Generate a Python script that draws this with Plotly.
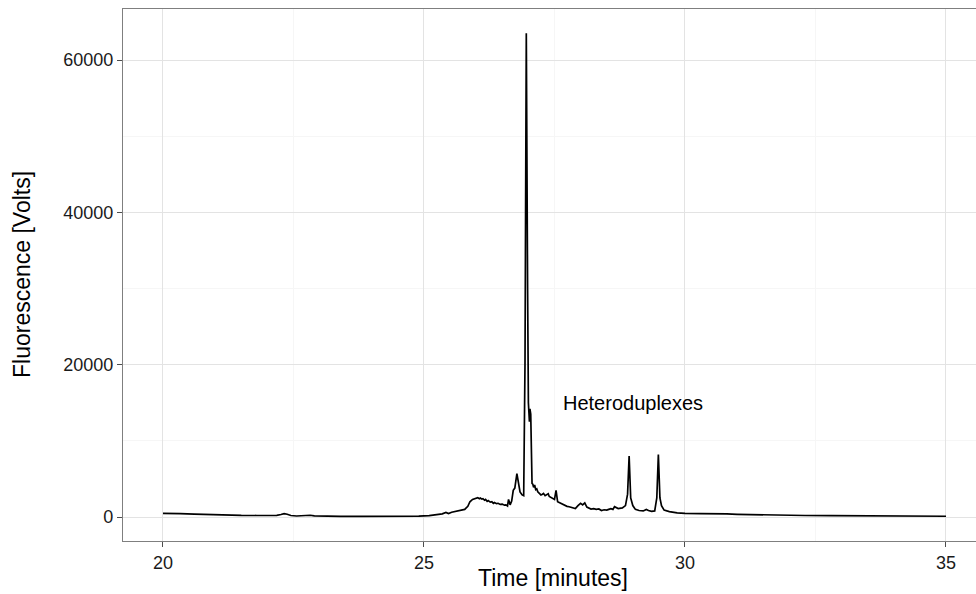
import plotly.graph_objects as go

time_min = [20.00, 20.15, 20.33, 20.6, 20.9, 21.2, 21.5, 21.8, 22.0, 22.18, 22.26, 22.32, 22.38, 22.45,
            22.56, 22.7, 22.82, 22.9, 23.1, 23.4, 23.8, 24.2, 24.6, 24.9, 25.1, 25.25, 25.35, 25.42,
            25.47, 25.53, 25.6, 25.7, 25.78, 25.84, 25.88, 25.93, 25.98, 26.03, 26.06, 26.08, 26.11,
            26.13, 26.16, 26.18, 26.21, 26.23, 26.27, 26.3, 26.33, 26.35, 26.39, 26.42, 26.46, 26.5,
            26.54, 26.57, 26.6, 26.62, 26.65, 26.68, 26.71, 26.74, 26.78,
            26.81, 26.84, 26.88, 26.91, 26.935, 26.96, 26.985, 27.0, 27.02, 27.03, 27.045, 27.055,
            27.07, 27.085, 27.1, 27.12, 27.14, 27.16, 27.18, 27.21, 27.24, 27.27, 27.29, 27.32, 27.35,
            27.38, 27.4, 27.43, 27.46, 27.5, 27.53,
            27.56, 27.59, 27.62, 27.66, 27.7, 27.74, 27.78, 27.82, 27.85, 27.9, 27.95, 28.0, 28.04,
            28.08, 28.12, 28.16, 28.2, 28.25, 28.3, 28.35,
            28.4, 28.45, 28.5, 28.54, 28.58, 28.62, 28.65, 28.72, 28.8, 28.86, 28.9, 28.93, 28.96,
            29.0, 29.05, 29.12,
            29.2, 29.26, 29.3, 29.36, 29.42, 29.46, 29.49, 29.52, 29.55, 29.6, 29.7, 29.85, 30.0,
            30.3, 30.6, 30.8, 31.0, 31.3, 31.8, 32.3, 32.8, 33.3, 33.8, 34.3, 35.0]
fluorescence = [480, 500, 450, 380, 300, 240, 210, 200, 200, 220, 330, 440, 360, 200,
                130, 150, 230, 140, 100, 90, 80, 80, 90, 120, 180, 300, 420, 600,
                450, 620, 700, 850, 1000, 1400, 2000, 2300, 2450, 2550, 2400, 2500, 2350,
                2400, 2200, 2300, 2050, 2150, 1950, 2000, 1800, 1900, 1750, 1800, 1650, 1700,
                1550, 1600, 1450, 2300, 1600, 2100, 3500, 3800, 5700,
                4200, 3300, 2900, 2800, 20000, 63500, 30000, 15000, 12500, 14200, 13500, 8000,
                4400, 4300, 3900, 4200, 3600, 3700, 3300, 3100, 2900, 3000, 3100, 2800, 2900,
                3050, 2700, 2600, 2450, 2300, 3500,
                2000, 1900, 1800, 1650, 1500, 1400, 1350, 1250, 1150, 1100, 1500, 1800, 1600,
                1850, 1300, 1200, 1050, 1100, 1000, 1050,
                850, 950, 900, 1000, 1100, 1000, 1350, 1100, 1200, 1500, 3000, 8000, 2500,
                1500, 1000, 850,
                800, 1000, 850, 750, 800, 2500, 8200, 2500, 1500, 900, 700, 550, 480,
                450, 480, 400, 350, 300, 250, 200, 170, 170, 150, 130, 100]

x_ticks = [20, 25, 30, 35]
y_ticks = [0, 20000, 40000, 60000]
label_text = "Heteroduplexes"
label_pos = (29, 15000)

FONT = "Liberation Sans, Arial, Helvetica, sans-serif"

fig = go.Figure()
fig.add_trace(go.Scatter(x=time_min, y=fluorescence, mode="lines",
                         line=dict(color="black", width=1.7), showlegend=False,
                         hoverinfo="skip"))

fig.add_annotation(x=label_pos[0], y=label_pos[1], text=label_text, showarrow=False,
                   font=dict(family=FONT, size=20, color="black"),
                   xanchor="center", yanchor="middle")

# axis titles
fig.add_annotation(xref="paper", yref="paper", x=0.504, y=-0.0695, text="Time [minutes]",
                   showarrow=False, font=dict(family=FONT, size=23, color="black"),
                   xanchor="center", yanchor="middle")
fig.add_annotation(xref="paper", yref="paper", x=-0.1184, y=0.5, text="Fluorescence [Volts]",
                   showarrow=False, textangle=-90, font=dict(family=FONT, size=23, color="black"),
                   xanchor="center", yanchor="middle")

fig.update_layout(
    width=976, height=594,
    margin=dict(l=123, r=0, t=9, b=53),
    paper_bgcolor="white", plot_bgcolor="white",
    font=dict(family=FONT, size=18, color="black"),
)
fig.update_xaxes(
    range=[19.234, 35.575], tickvals=x_ticks, ticktext=[str(v) for v in x_ticks],
    showgrid=True, gridcolor="#e3e3e3", gridwidth=1,
    minor=dict(tickvals=[22.5, 27.5, 32.5], showgrid=True, gridcolor="#f6f6f6", gridwidth=1),
    showline=True, linecolor="#7f7f7f", linewidth=1.2, mirror=True,
    ticks="outside", ticklen=5, tickcolor="#4d4d4d", tickwidth=1,
    tickfont=dict(family=FONT, size=18, color="#1a1a1a"), zeroline=False,
)
fig.update_yaxes(
    range=[-3151, 66700], tickvals=y_ticks, ticktext=[str(v) for v in y_ticks],
    showgrid=True, gridcolor="#e3e3e3", gridwidth=1,
    minor=dict(tickvals=[10000, 30000, 50000], showgrid=True, gridcolor="#f6f6f6", gridwidth=1),
    showline=True, linecolor="#7f7f7f", linewidth=1.2, mirror=False,
    ticks="outside", ticklen=5, tickcolor="#4d4d4d", tickwidth=1,
    tickfont=dict(family=FONT, size=18, color="#1a1a1a"), zeroline=False,
)

fig.write_html("out.html", config={"displayModeBar": False},
               post_script="document.body.style.margin='0';document.body.style.overflow='hidden';")
